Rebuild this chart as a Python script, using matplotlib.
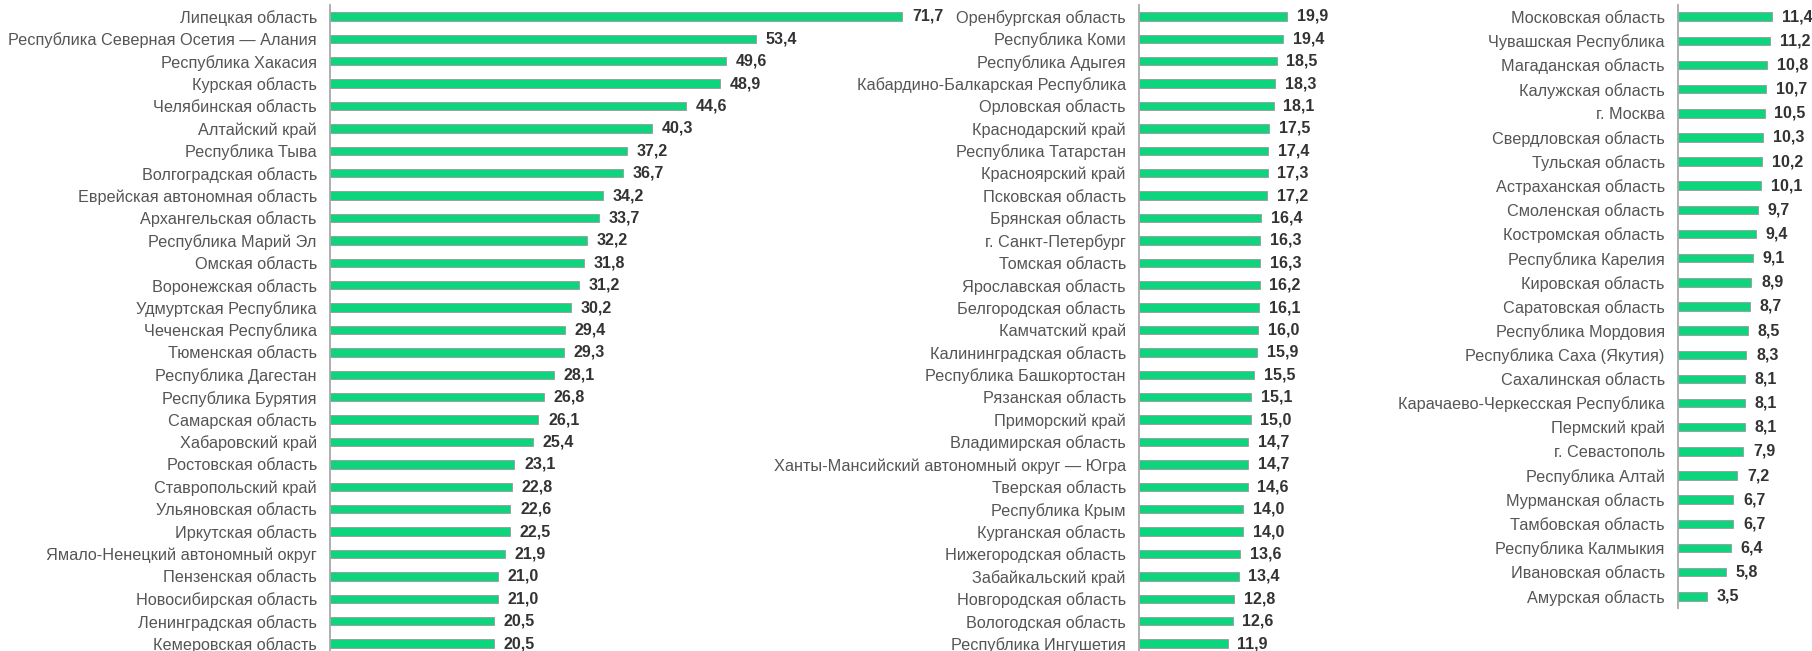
import numpy as np
import matplotlib
matplotlib.use('Agg')
import matplotlib.pyplot as plt

plt.rcParams['font.family'] = ['Liberation Sans', 'DejaVu Sans']

# Panel 1
regions_1 = ['Липецкая область', 'Республика Северная Осетия — Алания', 'Республика Хакасия',
             'Курская область', 'Челябинская область', 'Алтайский край', 'Республика Тыва',
             'Волгоградская область', 'Еврейская автономная область', 'Архангельская область',
             'Республика Марий Эл', 'Омская область', 'Воронежская область', 'Удмуртская Республика',
             'Чеченская Республика', 'Тюменская область', 'Республика Дагестан', 'Республика Бурятия',
             'Самарская область', 'Хабаровский край', 'Ростовская область', 'Ставропольский край',
             'Ульяновская область', 'Иркутская область', 'Ямало-Ненецкий автономный округ',
             'Пензенская область', 'Новосибирская область', 'Ленинградская область', 'Кемеровская область']
values_1 = [71.7, 53.4, 49.6, 48.9, 44.6, 40.3, 37.2, 36.7, 34.2, 33.7, 32.2, 31.8, 31.2, 30.2,
            29.4, 29.3, 28.1, 26.8, 26.1, 25.4, 23.1, 22.8, 22.6, 22.5, 21.9, 21.0, 21.0, 20.5, 20.5]

# Panel 2
regions_2 = ['Оренбургская область', 'Республика Коми', 'Республика Адыгея',
             'Кабардино-Балкарская Республика', 'Орловская область', 'Краснодарский край',
             'Республика Татарстан', 'Красноярский край', 'Псковская область', 'Брянская область',
             'г. Санкт-Петербург', 'Томская область', 'Ярославская область', 'Белгородская область',
             'Камчатский край', 'Калининградская область', 'Республика Башкортостан', 'Рязанская область',
             'Приморский край', 'Владимирская область', 'Ханты-Мансийский автономный округ — Югра',
             'Тверская область', 'Республика Крым', 'Курганская область', 'Нижегородская область',
             'Забайкальский край', 'Новгородская область', 'Вологодская область', 'Республика Ингушетия']
values_2 = [19.9, 19.4, 18.5, 18.3, 18.1, 17.5, 17.4, 17.3, 17.2, 16.4, 16.3, 16.3, 16.2, 16.1,
            16.0, 15.9, 15.5, 15.1, 15.0, 14.7, 14.7, 14.6, 14.0, 14.0, 13.6, 13.4, 12.8, 12.6, 11.9]

# Panel 3
regions_3 = ['Московская область', 'Чувашская Республика', 'Магаданская область', 'Калужская область',
             'г. Москва', 'Свердловская область', 'Тульская область', 'Астраханская область',
             'Смоленская область', 'Костромская область', 'Республика Карелия', 'Кировская область',
             'Саратовская область', 'Республика Мордовия', 'Республика Саха (Якутия)', 'Сахалинская область',
             'Карачаево-Черкесская Республика', 'Пермский край', 'г. Севастополь', 'Республика Алтай',
             'Мурманская область', 'Тамбовская область', 'Республика Калмыкия', 'Ивановская область',
             'Амурская область']
values_3 = [11.4, 11.2, 10.8, 10.7, 10.5, 10.3, 10.2, 10.1, 9.7, 9.4, 9.1, 8.9, 8.7, 8.5, 8.3,
            8.1, 8.1, 8.1, 7.9, 7.2, 6.7, 6.7, 6.4, 5.8, 3.5]

W, H = 1812, 651
fig = plt.figure(figsize=(W / 100, H / 100), dpi=100, facecolor='white')

BAR_COLOR = '#0fd47e'
EDGE_COLOR = '#9a9a9a'
LABEL_COLOR = '#555555'
VALUE_COLOR = '#333333'
AXIS_COLOR = '#a8a8a8'

# (left px, top px, row spacing px, px per unit, xmax)
panels = [
    (regions_1, values_1, 330, 5.2, 22.4, 7.98, 85),
    (regions_2, values_2, 1139, 5.2, 22.4, 7.44, 25),
    (regions_3, values_3, 1678, 4.6, 24.15, 8.25, 16),
]

for names, vals, left, top, step, ppu, xmax in panels:
    n = len(vals)
    height_px = n * step
    width_px = xmax * ppu
    ax = fig.add_axes([left / W, (H - top - height_px) / H, width_px / W, height_px / H])
    y = np.arange(n)
    bar_h = 8.5 / step
    ax.barh(y, vals, height=bar_h, color=BAR_COLOR, edgecolor=EDGE_COLOR, linewidth=0.6)
    ax.set_xlim(0, xmax)
    ax.set_ylim(n - 0.5, -0.5)
    ax.set_yticks(y)
    ax.set_yticklabels(names, fontsize=11.7, color=LABEL_COLOR)
    ax.tick_params(axis='y', length=0, pad=9.5)
    ax.set_xticks([])
    for side in ['top', 'right', 'bottom']:
        ax.spines[side].set_visible(False)
    ax.spines['left'].set_color(AXIS_COLOR)
    ax.spines['left'].set_linewidth(1.3)
    ax.patch.set_alpha(0)
    for yi, v in zip(y, vals):
        ax.annotate(f'{v:.1f}'.replace('.', ','), xy=(v, yi), xytext=(7, 0),
                    textcoords='offset points', ha='left', va='center',
                    fontsize=11.5, fontweight='bold', color=VALUE_COLOR,
                    annotation_clip=False)

fig.savefig('out.png', dpi=100, facecolor='white')
